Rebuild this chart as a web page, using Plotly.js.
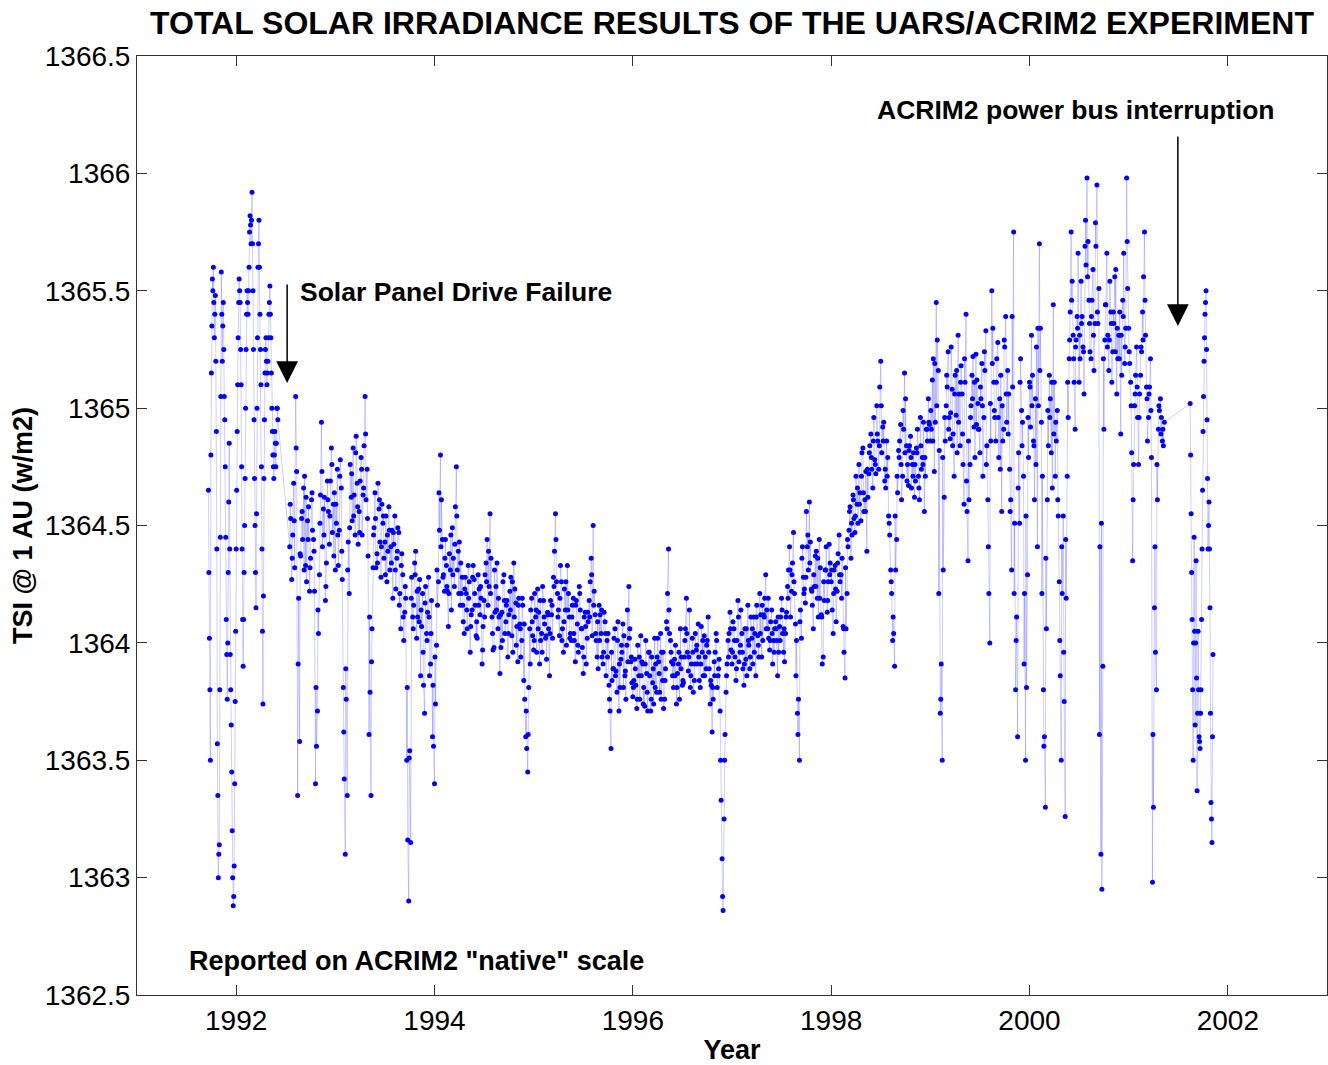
<!DOCTYPE html>
<html>
<head>
<meta charset="utf-8">
<script src="https://cdn.plot.ly/plotly-3.0.1.min.js"></script>
<style>html,body{margin:0;padding:0;background:#fff;}#chart{width:1328px;height:1065px;}</style>
</head>
<body>
<div id="chart"></div>
<script>
// ---- Data (year, TSI in W/m2) ----
var yearsA = [1991.72,1991.73,1991.74,1991.75,1991.76,1991.77,1991.78,1991.79,1991.80,1991.81,1991.82,1991.83,1991.84,1991.85,1991.86,1991.87,1991.88,1991.89,1991.90,1991.91,1991.92,1991.93,1991.94,1991.95,1991.96,1991.97,1991.98,1991.99,1992.00,1992.01,1992.02,1992.03,1992.04,1992.05,1992.06,1992.07,1992.08,1992.09,1992.10,1992.11,1992.12,1992.13,1992.14,1992.15,1992.16,1992.17,1992.18,1992.19,1992.20,1992.21,1992.22,1992.23,1992.24,1992.25,1992.26,1992.27,1992.28,1992.29,1992.30,1992.31,1992.32,1992.33,1992.34,1992.35,1992.36,1992.37,1992.38,1992.39,1992.40,1992.41,1992.42];
var tsiA = [1364.65,1364.02,1363.50,1365.15,1365.55,1365.60,1365.30,1365.48,1364.90,1363.57,1363.00,1363.14,1364.45,1365.58,1365.20,1365.45,1365.05,1364.75,1364.10,1363.76,1364.30,1364.85,1363.95,1363.65,1363.20,1362.88,1363.05,1363.75,1364.40,1364.90,1365.30,1365.55,1365.45,1365.10,1364.40,1363.90,1364.30,1364.70,1365.25,1365.50,1365.40,1365.60,1365.82,1365.70,1365.92,1365.50,1364.95,1364.50,1364.15,1365.00,1365.60,1365.80,1365.40,1365.10,1364.40,1363.74,1364.70,1365.15,1365.30,1365.10,1365.20,1365.40,1365.52,1365.30,1365.00,1364.80,1364.70,1364.90,1364.75,1365.00,1364.95];
var yearsA3 = [1991.725,1991.735,1991.745,1991.755,1991.765,1991.775,1991.785,1991.795,1991.805,1991.815,1991.825,1991.835,1991.845,1991.855,1991.865,1991.875,1991.885,1991.895,1991.905,1991.915,1991.925,1991.935,1991.945,1991.955,1991.965,1991.975,1991.985,1991.995,1992.005,1992.015,1992.025,1992.035,1992.045,1992.055,1992.065,1992.075,1992.085,1992.095,1992.105,1992.115,1992.125,1992.135,1992.145,1992.155,1992.165,1992.175,1992.185,1992.195,1992.205,1992.215,1992.225,1992.235,1992.245,1992.255,1992.265,1992.275,1992.285,1992.295,1992.305,1992.315,1992.325,1992.335,1992.345,1992.355,1992.365,1992.375,1992.385,1992.395,1992.405,1992.415];
var tsiA3 = [1364.30,1363.80,1364.80,1365.35,1365.50,1365.45,1365.40,1365.20,1364.40,1363.35,1363.10,1363.80,1365.05,1365.40,1365.35,1365.25,1364.95,1364.45,1363.95,1364.00,1364.60,1364.40,1363.80,1363.45,1363.00,1362.92,1363.40,1364.05,1364.65,1365.10,1365.45,1365.50,1365.25,1364.75,1364.10,1364.10,1364.50,1365.00,1365.40,1365.45,1365.50,1365.75,1365.78,1365.80,1365.70,1365.25,1364.70,1364.30,1364.55,1365.30,1365.70,1365.60,1365.25,1364.75,1364.05,1364.20,1364.95,1365.25,1365.20,1365.15,1365.30,1365.45,1365.40,1365.15,1364.90,1364.75,1364.80,1364.85,1364.85,1365.00];

var yearsB = [1992.54,1992.56,1992.58,1992.60,1992.62,1992.64,1992.66,1992.68,1992.70,1992.72,1992.74,1992.76,1992.78,1992.80,1992.82,1992.84,1992.86,1992.88,1992.90,1992.92,1992.94,1992.96,1992.98,1993.00,1993.02,1993.04,1993.06,1993.08,1993.10,1993.12,1993.14,1993.16,1993.18,1993.20,1993.22,1993.24,1993.26,1993.28,1993.30,1993.32,1993.34,1993.36,1993.38,1993.40,1993.42,1993.44,1993.46,1993.48,1993.50,1993.52,1993.54,1993.56,1993.58,1993.60,1993.62,1993.64,1993.66,1993.68,1993.70,1993.72,1993.74,1993.76,1993.78,1993.80,1993.82,1993.84,1993.86,1993.88,1993.90,1993.92,1993.94,1993.96,1993.98,1994.00,1994.02,1994.04,1994.06,1994.08,1994.10,1994.12,1994.14,1994.16,1994.18,1994.20,1994.22,1994.24,1994.26,1994.28,1994.30,1994.32,1994.34,1994.36,1994.38,1994.40,1994.42,1994.44,1994.46,1994.48,1994.50,1994.52,1994.54,1994.56,1994.58,1994.60,1994.62,1994.64,1994.66,1994.68,1994.70,1994.72,1994.74,1994.76,1994.78,1994.80,1994.82,1994.84,1994.86,1994.88,1994.90,1994.92,1994.94,1994.96,1994.98,1995.00,1995.02,1995.04,1995.06,1995.08,1995.10,1995.12,1995.14,1995.16,1995.18,1995.20,1995.22,1995.24,1995.26,1995.28,1995.30,1995.32,1995.34,1995.36,1995.38,1995.40,1995.42,1995.44,1995.46,1995.48,1995.50,1995.52,1995.54,1995.56,1995.58,1995.60,1995.62,1995.64,1995.66,1995.68,1995.70,1995.72,1995.74,1995.76,1995.78,1995.80,1995.82,1995.84,1995.86,1995.88,1995.90,1995.92,1995.94,1995.96,1995.98];
var tsiB = [1364.41,1364.27,1364.68,1365.05,1363.35,1363.58,1364.53,1364.66,1364.33,1364.52,1364.22,1364.61,1364.44,1363.40,1363.71,1364.29,1364.94,1364.57,1364.18,1364.69,1364.42,1364.83,1364.59,1364.31,1364.74,1364.48,1364.66,1363.81,1363.10,1363.35,1364.21,1364.62,1364.83,1364.46,1364.68,1364.56,1364.79,1364.63,1365.05,1364.74,1363.61,1363.35,1364.32,1364.64,1364.38,1364.57,1364.28,1364.51,1364.43,1364.26,1364.58,1364.41,1364.19,1364.54,1364.36,1364.47,1364.06,1364.29,1364.13,1363.50,1362.90,1363.15,1364.11,1364.34,1364.02,1364.23,1363.86,1364.21,1363.70,1364.04,1364.28,1363.91,1363.60,1363.40,1363.99,1364.26,1364.80,1364.44,1364.22,1364.33,1364.07,1364.31,1364.49,1364.24,1364.75,1364.39,1364.16,1364.28,1364.04,1364.21,1364.33,1363.96,1364.14,1364.27,1364.03,1364.29,1364.12,1363.91,1364.18,1364.34,1364.16,1364.55,1364.11,1363.98,1364.24,1364.06,1363.87,1364.13,1364.29,1364.09,1363.94,1364.22,1364.03,1364.34,1364.17,1363.92,1364.08,1364.01,1363.84,1363.60,1363.45,1364.06,1364.19,1363.97,1364.11,1364.23,1363.91,1364.04,1364.18,1364.02,1364.13,1363.86,1364.12,1364.28,1364.55,1364.21,1364.03,1364.26,1363.96,1364.14,1364.33,1364.11,1364.01,1364.19,1363.92,1364.08,1364.24,1364.06,1363.87,1364.13,1364.02,1364.18,1364.36,1364.50,1364.12,1363.94,1364.16,1364.04,1363.91,1364.09,1364.01,1363.82,1363.55,1363.89,1364.06,1363.79,1363.71,1363.93,1364.08,1363.86,1363.99,1364.24,1363.92];
var yearsB2 = [1992.55,1992.57,1992.59,1992.61,1992.63,1992.65,1992.67,1992.69,1992.71,1992.73,1992.75,1992.77,1992.79,1992.81,1992.83,1992.85,1992.87,1992.89,1992.91,1992.93,1992.95,1992.97,1992.99,1993.01,1993.03,1993.05,1993.07,1993.09,1993.11,1993.13,1993.15,1993.17,1993.19,1993.21,1993.23,1993.25,1993.27,1993.29,1993.31,1993.33,1993.35,1993.37,1993.39,1993.41,1993.43,1993.45,1993.47,1993.49,1993.51,1993.53,1993.55,1993.57,1993.59,1993.61,1993.63,1993.65,1993.67,1993.69,1993.71,1993.73,1993.75,1993.77,1993.79,1993.81,1993.83,1993.85,1993.87,1993.89,1993.91,1993.93,1993.95,1993.97,1993.99,1994.01,1994.03,1994.05,1994.07,1994.09,1994.11,1994.13,1994.15,1994.17,1994.19,1994.21,1994.23,1994.25,1994.27,1994.29,1994.31,1994.33,1994.35,1994.37,1994.39,1994.41,1994.43,1994.45,1994.47,1994.49,1994.51,1994.53,1994.55,1994.57,1994.59,1994.61,1994.63,1994.65,1994.67,1994.69,1994.71,1994.73,1994.75,1994.77,1994.79,1994.81,1994.83,1994.85,1994.87,1994.89,1994.91,1994.93,1994.95,1994.97,1994.99,1995.01,1995.03,1995.05,1995.07,1995.09,1995.11,1995.13,1995.15,1995.17,1995.19,1995.21,1995.23,1995.25,1995.27,1995.29,1995.31,1995.33,1995.35,1995.37,1995.39,1995.41,1995.43,1995.45,1995.47,1995.49,1995.51,1995.53,1995.55,1995.57,1995.59,1995.61,1995.63,1995.65,1995.67,1995.69,1995.71,1995.73,1995.75,1995.77,1995.79,1995.81,1995.83,1995.85,1995.87,1995.89,1995.91,1995.93,1995.95,1995.97,1995.99];
var tsiB2 = [1364.53,1364.46,1364.32,1364.73,1364.19,1364.37,1364.44,1364.71,1364.26,1364.58,1364.36,1364.48,1364.22,1363.56,1364.04,1364.63,1364.41,1364.62,1364.34,1364.56,1364.69,1364.47,1364.64,1364.51,1364.33,1364.78,1364.27,1363.42,1363.76,1364.43,1364.76,1364.52,1364.63,1364.88,1364.42,1364.69,1364.46,1364.84,1364.61,1364.37,1363.79,1364.06,1364.49,1364.32,1364.68,1364.43,1364.59,1364.36,1364.54,1364.39,1364.31,1364.48,1364.42,1364.23,1364.49,1364.21,1364.38,1364.01,1364.19,1363.16,1363.54,1364.28,1364.16,1364.39,1364.11,1364.27,1364.07,1363.82,1364.24,1364.13,1363.86,1364.18,1363.56,1363.74,1364.16,1364.48,1364.61,1364.29,1364.44,1364.22,1364.38,1364.14,1364.36,1364.58,1364.31,1364.43,1364.21,1364.09,1364.28,1364.06,1364.26,1364.12,1364.33,1364.16,1364.02,1364.23,1364.19,1364.07,1364.29,1364.44,1364.24,1364.36,1363.97,1364.13,1364.34,1364.11,1363.98,1364.26,1364.04,1364.18,1364.12,1364.28,1363.96,1364.23,1364.07,1364.19,1363.94,1364.16,1363.76,1363.55,1363.81,1364.14,1364.03,1364.21,1363.96,1364.13,1364.01,1364.24,1364.08,1363.93,1364.06,1364.18,1364.02,1364.39,1364.26,1364.14,1364.33,1364.06,1364.23,1363.99,1364.21,1364.04,1364.16,1364.01,1364.18,1363.96,1364.14,1363.98,1364.11,1363.91,1364.09,1364.26,1364.03,1364.22,1364.01,1363.89,1364.12,1363.94,1364.13,1363.86,1364.04,1363.71,1363.84,1364.02,1363.88,1364.09,1363.81,1363.96,1364.03,1363.76,1363.92,1364.06,1363.83];
var yearsB3 = [1992.545,1992.565,1992.585,1992.605,1992.625,1992.645,1992.665,1992.685,1992.705,1992.725,1992.745,1992.765,1992.785,1992.805,1992.825,1992.845,1992.865,1992.885,1992.905,1992.925,1992.945,1992.965,1992.985,1993.005,1993.025,1993.045,1993.065,1993.085,1993.105,1993.125,1993.145,1993.165,1993.185,1993.205,1993.225,1993.245,1993.265,1993.285,1993.305,1993.325,1993.345,1993.365,1993.385,1993.405,1993.425,1993.445,1993.465,1993.485,1993.505,1993.525,1993.545,1993.565,1993.585,1993.605,1993.625,1993.645,1993.665,1993.685,1993.705,1993.725,1993.745,1993.765,1993.785,1993.805,1993.825,1993.845,1993.865,1993.885,1993.905,1993.925,1993.945,1993.965,1993.985,1994.005,1994.025,1994.045,1994.065,1994.085,1994.105,1994.125,1994.145,1994.165,1994.185,1994.205,1994.225,1994.245,1994.265,1994.285,1994.305,1994.325,1994.345,1994.365,1994.385,1994.405,1994.425,1994.445,1994.465,1994.485,1994.505,1994.525,1994.545,1994.565,1994.585,1994.605,1994.625,1994.645,1994.665,1994.685,1994.705,1994.725,1994.745,1994.765,1994.785,1994.805,1994.825,1994.845,1994.865,1994.885,1994.905,1994.925,1994.945,1994.965,1994.985,1995.005,1995.025,1995.045,1995.065,1995.085,1995.105,1995.125,1995.145,1995.165,1995.185,1995.205,1995.225,1995.245,1995.265,1995.285,1995.305,1995.325,1995.345,1995.365,1995.385,1995.405,1995.425,1995.445,1995.465,1995.485,1995.505,1995.525,1995.545,1995.565,1995.585,1995.605,1995.625,1995.645,1995.665,1995.685,1995.705,1995.725,1995.745,1995.765,1995.785,1995.805,1995.825,1995.845,1995.865,1995.885,1995.905,1995.925,1995.945,1995.965,1995.985];
var tsiB3 = [1364.59,1364.36,1364.52,1364.83,1363.91,1364.38,1364.56,1364.31,1364.62,1364.44,1364.32,1364.64,1364.39,1363.81,1364.14,1364.51,1364.73,1364.46,1364.24,1364.61,1364.54,1364.76,1364.37,1364.59,1364.46,1364.71,1364.39,1363.62,1363.89,1364.31,1364.49,1364.72,1364.54,1364.81,1364.58,1364.47,1364.74,1364.66,1364.89,1364.53,1364.11,1363.92,1364.46,1364.53,1364.34,1364.61,1364.41,1364.54,1364.29,1364.46,1364.48,1364.34,1364.47,1364.31,1364.39,1364.16,1364.33,1364.11,1364.24,1363.81,1363.51,1364.19,1364.06,1364.29,1364.22,1364.09,1364.14,1363.96,1364.17,1364.01,1364.11,1364.04,1363.82,1363.94,1364.31,1364.64,1364.41,1364.28,1364.36,1364.24,1364.21,1364.46,1364.29,1364.42,1364.54,1364.21,1364.34,1364.16,1364.23,1364.14,1364.19,1364.07,1364.28,1364.21,1364.09,1364.16,1364.24,1363.97,1364.11,1364.26,1364.39,1364.21,1364.04,1364.31,1364.14,1364.19,1364.12,1364.01,1364.18,1364.16,1364.04,1364.14,1364.26,1364.11,1363.99,1364.16,1364.06,1364.19,1364.08,1363.71,1363.61,1363.91,1364.09,1364.01,1364.14,1364.06,1364.18,1363.96,1364.11,1364.03,1364.12,1364.04,1364.16,1364.24,1364.44,1364.11,1364.19,1364.01,1364.09,1364.26,1364.14,1364.02,1364.11,1364.04,1364.16,1363.99,1364.21,1364.06,1363.94,1364.07,1364.13,1364.11,1364.29,1364.16,1364.04,1364.09,1364.01,1364.14,1363.96,1364.04,1363.94,1363.76,1363.96,1363.89,1363.86,1364.01,1363.91,1363.99,1363.81,1363.88,1364.14,1364.02,1363.94];

var yearsC = [1996.00,1996.02,1996.04,1996.06,1996.08,1996.10,1996.12,1996.14,1996.16,1996.18,1996.20,1996.22,1996.24,1996.26,1996.28,1996.30,1996.32,1996.34,1996.36,1996.38,1996.40,1996.42,1996.44,1996.46,1996.48,1996.50,1996.52,1996.54,1996.56,1996.58,1996.60,1996.62,1996.64,1996.66,1996.68,1996.70,1996.72,1996.74,1996.76,1996.78,1996.80,1996.82,1996.84,1996.86,1996.88,1996.89,1996.90,1996.91,1996.92,1996.94,1996.96,1996.98,1997.00,1997.02,1997.04,1997.06,1997.08,1997.10,1997.12,1997.14,1997.16,1997.18,1997.20,1997.22,1997.24,1997.26,1997.28,1997.30,1997.32,1997.34,1997.36,1997.38,1997.40,1997.42,1997.44,1997.46,1997.48,1997.50,1997.52,1997.54,1997.56,1997.58,1997.60];
var tsiC = [1363.77,1363.93,1363.72,1363.86,1364.03,1363.91,1363.73,1363.87,1363.96,1363.71,1363.83,1364.02,1363.79,1363.92,1364.04,1363.84,1363.76,1364.09,1364.40,1364.01,1363.86,1363.93,1363.74,1363.91,1364.06,1363.82,1363.94,1364.19,1363.88,1363.81,1364.02,1363.84,1363.97,1364.08,1363.81,1363.96,1364.03,1363.89,1364.11,1363.74,1363.62,1363.92,1364.04,1363.86,1363.71,1363.33,1363.08,1362.86,1363.25,1363.79,1364.01,1364.13,1363.91,1364.06,1363.84,1364.18,1363.96,1364.04,1363.82,1363.93,1364.16,1363.89,1364.02,1364.11,1363.86,1364.03,1364.21,1363.94,1364.12,1364.29,1364.06,1363.97,1364.14,1364.01,1364.09,1363.86,1364.07,1364.19,1363.96,1364.04,1364.24,1364.41,1364.22];
var yearsC2 = [1996.01,1996.03,1996.05,1996.07,1996.09,1996.11,1996.13,1996.15,1996.17,1996.19,1996.21,1996.23,1996.25,1996.27,1996.29,1996.31,1996.33,1996.35,1996.37,1996.39,1996.41,1996.43,1996.45,1996.47,1996.49,1996.51,1996.53,1996.55,1996.57,1996.59,1996.61,1996.63,1996.65,1996.67,1996.69,1996.71,1996.73,1996.75,1996.77,1996.79,1996.81,1996.83,1996.85,1996.87,1996.93,1996.95,1996.97,1996.99,1997.01,1997.03,1997.05,1997.07,1997.09,1997.11,1997.13,1997.15,1997.17,1997.19,1997.21,1997.23,1997.25,1997.27,1997.29,1997.31,1997.33,1997.35,1997.37,1997.39,1997.41,1997.43,1997.45,1997.47,1997.49,1997.51,1997.53,1997.55,1997.57,1997.59];
var tsiC2 = [1363.84,1363.82,1363.99,1363.76,1363.92,1363.81,1364.01,1363.71,1363.86,1363.94,1363.74,1363.91,1364.02,1363.79,1363.96,1363.72,1363.89,1364.21,1364.04,1363.92,1363.81,1363.99,1363.87,1363.76,1363.94,1363.83,1364.06,1363.96,1364.14,1363.91,1363.79,1364.04,1363.91,1363.84,1364.07,1363.86,1363.94,1364.01,1363.89,1363.82,1363.76,1363.96,1363.81,1363.93,1363.61,1363.91,1364.04,1363.97,1364.09,1363.94,1364.01,1363.92,1364.14,1363.89,1364.06,1363.86,1363.99,1364.11,1363.91,1364.04,1364.16,1363.94,1364.12,1364.01,1364.19,1364.14,1364.02,1364.09,1363.91,1364.06,1364.01,1363.96,1364.11,1364.04,1363.92,1364.13,1364.31,1364.11];
var yearsC3 = [1996.005,1996.025,1996.045,1996.065,1996.085,1996.105,1996.125,1996.145,1996.165,1996.185,1996.205,1996.225,1996.245,1996.265,1996.285,1996.305,1996.325,1996.345,1996.365,1996.385,1996.405,1996.425,1996.445,1996.465,1996.485,1996.505,1996.525,1996.545,1996.565,1996.585,1996.605,1996.625,1996.645,1996.665,1996.685,1996.705,1996.725,1996.745,1996.765,1996.785,1996.805,1996.825,1996.845,1996.865,1996.885,1996.905,1996.925,1996.945,1996.965,1996.985,1997.005,1997.025,1997.045,1997.065,1997.085,1997.105,1997.125,1997.145,1997.165,1997.185,1997.205,1997.225,1997.245,1997.265,1997.285,1997.305,1997.325,1997.345,1997.365,1997.385,1997.405,1997.425,1997.445,1997.465,1997.485,1997.505,1997.525,1997.545,1997.565,1997.585];
var tsiC3 = [1363.81,1363.89,1363.76,1363.94,1363.86,1363.74,1363.91,1363.79,1363.96,1363.76,1363.89,1363.81,1363.94,1363.87,1363.76,1363.96,1363.84,1364.06,1364.14,1363.96,1363.91,1363.86,1363.81,1363.96,1363.89,1363.84,1364.01,1364.04,1363.94,1363.86,1363.96,1363.91,1363.99,1363.94,1363.91,1364.01,1363.86,1363.99,1363.96,1363.84,1363.81,1363.86,1364.01,1363.89,1363.50,1362.92,1363.50,1363.86,1363.94,1364.06,1363.96,1364.01,1363.89,1364.11,1363.99,1363.96,1363.91,1364.06,1364.01,1363.94,1364.06,1363.96,1364.11,1363.99,1364.04,1364.16,1364.11,1364.06,1364.19,1364.01,1364.04,1363.96,1364.06,1364.11,1364.01,1364.14,1364.06,1364.11,1364.19,1364.31];

var yearsD = [1997.62,1997.64,1997.66,1997.68,1997.70,1997.72,1997.74,1997.76,1997.78,1997.80,1997.82,1997.84,1997.86,1997.88,1997.90,1997.92,1997.94,1997.96,1997.98,1998.00,1998.02,1998.04,1998.06,1998.08,1998.10,1998.12,1998.14,1998.16,1998.18,1998.20,1998.22,1998.24,1998.26,1998.28,1998.30,1998.32,1998.34,1998.36,1998.38,1998.40,1998.42,1998.44,1998.46,1998.48,1998.50,1998.52,1998.54,1998.56,1998.58,1998.60,1998.62,1998.64,1998.66,1998.68,1998.70,1998.72,1998.74,1998.76,1998.78,1998.80,1998.82,1998.84,1998.86,1998.88,1998.90,1998.92,1998.94,1998.96,1998.98,1999.00];
var tsiD = [1364.47,1364.08,1363.70,1363.50,1364.02,1364.28,1364.17,1364.41,1364.60,1364.23,1364.06,1364.37,1364.19,1364.44,1364.12,1363.94,1364.31,1364.13,1364.42,1364.26,1364.04,1364.33,1364.22,1364.46,1364.29,1364.07,1363.85,1364.21,1364.48,1364.36,1364.63,1364.47,1364.59,1364.76,1364.52,1364.83,1364.61,1364.39,1364.72,1364.89,1364.66,1364.78,1365.01,1364.74,1365.20,1364.92,1364.69,1364.86,1364.54,1364.31,1364.01,1363.90,1364.44,1364.82,1364.93,1364.71,1365.15,1364.84,1364.67,1364.88,1364.76,1364.62,1364.83,1364.71,1364.96,1364.79,1364.56,1364.91,1365.04,1364.86];
var yearsD2 = [1997.61,1997.63,1997.65,1997.67,1997.69,1997.71,1997.73,1997.75,1997.77,1997.79,1997.81,1997.83,1997.85,1997.87,1997.89,1997.91,1997.93,1997.95,1997.97,1997.99,1998.01,1998.03,1998.05,1998.07,1998.09,1998.11,1998.13,1998.15,1998.17,1998.19,1998.21,1998.23,1998.25,1998.27,1998.29,1998.31,1998.33,1998.35,1998.37,1998.39,1998.41,1998.43,1998.45,1998.47,1998.49,1998.51,1998.53,1998.55,1998.57,1998.59,1998.61,1998.63,1998.65,1998.67,1998.69,1998.71,1998.73,1998.75,1998.77,1998.79,1998.81,1998.83,1998.85,1998.87,1998.89,1998.91,1998.93,1998.95,1998.97,1998.99];
var tsiD2 = [1364.34,1364.21,1364.01,1363.76,1364.14,1364.41,1364.23,1364.56,1364.31,1364.43,1364.16,1364.24,1364.39,1364.11,1364.32,1363.91,1364.18,1364.41,1364.26,1364.34,1364.14,1364.31,1364.09,1364.38,1364.26,1364.36,1363.96,1364.06,1364.41,1364.58,1364.46,1364.53,1364.71,1364.51,1364.64,1364.81,1364.56,1364.73,1364.62,1364.84,1364.74,1364.96,1364.72,1364.86,1365.09,1364.81,1364.94,1364.66,1364.79,1364.46,1364.21,1364.04,1364.31,1364.64,1364.86,1364.61,1364.91,1365.04,1364.76,1364.84,1364.66,1364.81,1364.69,1364.91,1364.61,1364.74,1364.94,1364.71,1364.86,1364.93];
var yearsD3 = [1997.605,1997.625,1997.645,1997.665,1997.685,1997.705,1997.725,1997.745,1997.765,1997.785,1997.805,1997.825,1997.845,1997.865,1997.885,1997.905,1997.925,1997.945,1997.965,1997.985,1998.005,1998.025,1998.045,1998.065,1998.085,1998.105,1998.125,1998.145,1998.165,1998.185,1998.205,1998.225,1998.245,1998.265,1998.285,1998.305,1998.325,1998.345,1998.365,1998.385,1998.405,1998.425,1998.445,1998.465,1998.485,1998.505,1998.525,1998.545,1998.565,1998.585,1998.605,1998.625,1998.645,1998.665,1998.685,1998.705,1998.725,1998.745,1998.765,1998.785,1998.805,1998.825,1998.845,1998.865,1998.885,1998.905,1998.925,1998.945,1998.965,1998.985];
var tsiD3 = [1364.29,1364.26,1363.86,1363.61,1364.09,1364.36,1364.21,1364.28,1364.46,1364.34,1364.22,1364.29,1364.24,1364.36,1364.19,1364.11,1364.26,1364.31,1364.18,1364.29,1364.31,1364.21,1364.23,1364.34,1364.29,1364.19,1364.06,1364.32,1364.44,1364.56,1364.51,1364.61,1364.54,1364.66,1364.59,1364.71,1364.64,1364.56,1364.74,1364.81,1364.79,1364.86,1364.76,1364.89,1364.84,1365.01,1364.86,1364.74,1364.71,1364.51,1364.26,1364.11,1364.54,1364.71,1364.79,1364.76,1364.99,1364.81,1364.69,1364.82,1364.79,1364.71,1364.76,1364.81,1364.66,1364.84,1364.76,1364.79,1364.91,1364.94];

var yearsE = [1999.02,1999.04,1999.06,1999.08,1999.10,1999.12,1999.14,1999.16,1999.18,1999.20,1999.22,1999.24,1999.26,1999.28,1999.30,1999.32,1999.34,1999.36,1999.38,1999.40,1999.42,1999.44,1999.46,1999.48,1999.50,1999.52,1999.54,1999.56,1999.58,1999.60,1999.62,1999.64,1999.66,1999.68,1999.70,1999.72,1999.74,1999.76,1999.78,1999.80,1999.82,1999.84,1999.86,1999.88,1999.90,1999.92,1999.94,1999.96,1999.98,2000.00];
var tsiE = [1365.12,1364.73,1365.45,1365.16,1363.70,1363.50,1364.62,1365.01,1365.24,1364.87,1365.08,1364.71,1364.97,1365.31,1364.84,1365.06,1364.59,1365.40,1364.35,1364.76,1365.14,1364.92,1365.23,1365.02,1364.81,1365.19,1364.96,1365.33,1364.61,1364.00,1365.50,1365.11,1364.86,1365.28,1365.04,1364.56,1364.91,1365.39,1365.16,1364.74,1364.31,1365.75,1363.80,1363.60,1364.51,1364.99,1364.71,1363.50,1364.29,1365.11];
var yearsE2 = [1999.01,1999.03,1999.05,1999.07,1999.09,1999.11,1999.13,1999.15,1999.17,1999.19,1999.21,1999.23,1999.25,1999.27,1999.29,1999.31,1999.33,1999.35,1999.37,1999.39,1999.41,1999.43,1999.45,1999.47,1999.49,1999.51,1999.53,1999.55,1999.57,1999.59,1999.61,1999.63,1999.65,1999.67,1999.69,1999.71,1999.73,1999.75,1999.77,1999.79,1999.81,1999.83,1999.85,1999.87,1999.89,1999.91,1999.93,1999.95,1999.97,1999.99];
var tsiE2 = [1364.91,1365.21,1364.94,1365.29,1364.82,1363.91,1364.31,1364.86,1365.09,1364.96,1365.26,1364.89,1365.14,1364.81,1365.06,1365.18,1364.76,1365.11,1364.56,1364.61,1365.01,1365.22,1364.79,1365.12,1364.91,1365.04,1364.71,1365.16,1364.84,1364.21,1364.86,1365.34,1364.96,1365.21,1364.79,1365.14,1364.86,1365.26,1364.94,1365.06,1364.61,1365.09,1364.51,1364.11,1364.81,1365.21,1364.94,1364.21,1363.81,1364.79];
var yearsE3 = [1999.005,1999.025,1999.045,1999.065,1999.085,1999.105,1999.125,1999.145,1999.165,1999.185,1999.205,1999.225,1999.245,1999.265,1999.285,1999.305,1999.325,1999.345,1999.365,1999.385,1999.405,1999.425,1999.445,1999.465,1999.485,1999.505,1999.525,1999.545,1999.565,1999.585,1999.605,1999.625,1999.645,1999.665,1999.685,1999.705,1999.725,1999.745,1999.765,1999.785,1999.805,1999.825,1999.845,1999.865,1999.885,1999.905,1999.925,1999.945,1999.965,1999.985];
var tsiE3 = [1364.99,1364.86,1365.19,1365.01,1364.21,1363.76,1364.79,1364.96,1365.14,1364.91,1364.98,1364.84,1365.06,1365.16,1364.94,1365.11,1364.89,1365.21,1364.69,1364.86,1364.96,1365.04,1365.11,1364.93,1364.91,1365.09,1365.01,1365.24,1364.76,1364.41,1365.02,1365.19,1364.99,1365.11,1364.96,1364.74,1365.01,1365.29,1365.06,1364.89,1364.56,1365.39,1364.21,1364.01,1364.66,1365.11,1364.84,1363.91,1364.54,1364.96];

var yearsF = [2000.02,2000.04,2000.06,2000.08,2000.10,2000.12,2000.14,2000.16,2000.18,2000.20,2000.22,2000.24,2000.26,2000.28,2000.30,2000.32,2000.34,2000.36,2000.38,2000.40,2000.42,2000.44,2000.46,2000.48,2000.50,2000.52,2000.54,2000.56,2000.58,2000.60,2000.62,2000.64,2000.66,2000.68,2000.70,2000.72,2000.73,2000.74,2000.76,2000.78,2000.80,2000.82,2000.84,2000.86,2000.88,2000.90,2000.92,2000.94,2000.96,2000.98,2001.00,2001.02,2001.04,2001.06,2001.08,2001.10,2001.12,2001.14,2001.16,2001.18,2001.20,2001.22,2001.24,2001.25,2001.26,2001.28,2001.30,2001.32,2001.34,2001.36];
var tsiF = [1365.31,1364.86,1365.04,1364.41,1365.70,1364.94,1363.80,1363.30,1364.61,1365.14,1364.81,1365.44,1364.71,1364.99,1364.26,1363.50,1364.54,1363.26,1364.71,1365.21,1365.75,1365.31,1364.91,1365.39,1365.11,1365.54,1365.26,1365.69,1365.98,1365.46,1365.21,1365.59,1365.36,1365.95,1365.51,1363.10,1362.95,1363.90,1365.29,1365.66,1365.16,1365.41,1365.24,1365.56,1365.06,1365.31,1364.89,1365.46,1365.19,1365.98,1365.34,1365.11,1364.35,1365.01,1365.26,1364.76,1365.14,1365.41,1365.75,1365.09,1364.96,1365.21,1362.98,1363.30,1364.15,1363.80,1364.91,1365.04,1364.86,1364.94];
var yearsF2 = [2000.01,2000.03,2000.05,2000.07,2000.09,2000.11,2000.13,2000.15,2000.17,2000.19,2000.21,2000.23,2000.25,2000.27,2000.29,2000.31,2000.33,2000.35,2000.37,2000.39,2000.41,2000.43,2000.45,2000.47,2000.49,2000.51,2000.53,2000.55,2000.57,2000.59,2000.61,2000.63,2000.65,2000.67,2000.69,2000.71,2000.75,2000.77,2000.79,2000.81,2000.83,2000.85,2000.87,2000.89,2000.91,2000.93,2000.95,2000.97,2000.99,2001.01,2001.03,2001.05,2001.07,2001.09,2001.11,2001.13,2001.15,2001.17,2001.19,2001.21,2001.23,2001.27,2001.29,2001.31,2001.33,2001.35];
var tsiF2 = [1364.92,1365.14,1364.61,1365.26,1365.01,1365.34,1364.71,1363.60,1364.06,1364.84,1365.04,1364.66,1365.11,1364.86,1364.54,1363.86,1364.21,1363.75,1364.19,1364.96,1365.41,1365.54,1365.11,1365.29,1365.66,1365.21,1365.39,1365.06,1365.61,1365.71,1365.24,1365.46,1365.16,1365.69,1365.36,1364.41,1364.91,1365.44,1365.31,1365.54,1365.11,1365.36,1365.59,1365.21,1365.41,1365.14,1365.66,1365.34,1365.51,1365.19,1364.81,1364.76,1365.14,1364.96,1365.06,1365.24,1365.56,1365.31,1364.86,1365.09,1364.79,1363.96,1364.61,1364.99,1364.96,1364.84];
var yearsF3 = [2000.005,2000.025,2000.045,2000.065,2000.085,2000.105,2000.125,2000.145,2000.165,2000.185,2000.205,2000.225,2000.245,2000.265,2000.285,2000.305,2000.325,2000.345,2000.365,2000.385,2000.405,2000.425,2000.445,2000.465,2000.485,2000.505,2000.525,2000.545,2000.565,2000.585,2000.605,2000.625,2000.645,2000.665,2000.685,2000.705,2000.725,2000.745,2000.765,2000.785,2000.805,2000.825,2000.845,2000.865,2000.885,2000.905,2000.925,2000.945,2000.965,2000.985,2001.005,2001.025,2001.045,2001.065,2001.085,2001.105,2001.125,2001.145,2001.165,2001.185,2001.205,2001.225,2001.245,2001.265,2001.285,2001.305,2001.325,2001.345];
var tsiF3 = [1365.09,1365.01,1364.84,1364.76,1365.34,1365.16,1364.21,1363.56,1364.36,1364.99,1364.96,1365.11,1364.89,1364.94,1364.61,1364.01,1364.41,1363.96,1364.44,1365.11,1365.29,1365.46,1365.21,1365.26,1365.34,1365.31,1365.36,1365.24,1365.80,1365.56,1365.36,1365.39,1365.31,1365.79,1365.41,1363.61,1364.51,1365.21,1365.44,1365.26,1365.29,1365.36,1365.41,1365.24,1365.34,1365.21,1365.31,1365.39,1365.26,1365.71,1365.24,1365.01,1364.61,1365.06,1365.09,1364.96,1365.26,1365.29,1365.46,1365.04,1365.06,1364.99,1363.61,1364.41,1364.76,1365.01,1364.89,1364.91];

var yearsG = [2001.62,2001.63,2001.64,2001.65,2001.66,2001.67,2001.68,2001.69,2001.70,2001.71,2001.72,2001.73,2001.74,2001.75,2001.76,2001.77,2001.78,2001.79,2001.80,2001.81,2001.82,2001.83,2001.84,2001.85];
var tsiG = [1365.02,1364.55,1364.10,1363.50,1364.45,1363.65,1364.35,1363.37,1364.05,1363.60,1363.55,1363.80,1364.40,1364.90,1365.20,1365.40,1365.50,1364.95,1364.40,1364.60,1364.15,1363.32,1363.15,1363.95];
var yearsG3 = [2001.625,2001.635,2001.645,2001.655,2001.665,2001.675,2001.685,2001.695,2001.705,2001.715,2001.725,2001.735,2001.745,2001.755,2001.765,2001.775,2001.785,2001.795,2001.805,2001.815,2001.825,2001.835,2001.845];
var tsiG3 = [1364.80,1364.30,1363.80,1364.00,1364.05,1364.00,1363.85,1363.70,1363.80,1363.58,1363.70,1364.10,1364.65,1365.05,1365.30,1365.45,1365.25,1364.70,1364.50,1364.40,1363.70,1363.25,1363.60];

var xTickVals = [1992, 1994, 1996, 1998, 2000, 2002];
var xTickText = ["1992", "1994", "1996", "1998", "2000", "2002"];
var yTickVals = [1362.5, 1363, 1363.5, 1364, 1364.5, 1365, 1365.5, 1366, 1366.5];
var yTickText = ["1362.5", "1363", "1363.5", "1364", "1364.5", "1365", "1365.5", "1366", "1366.5"];

var chartTitle = "TOTAL SOLAR IRRADIANCE RESULTS OF THE UARS/ACRIM2 EXPERIMENT";
var xTitle = "Year";
var yTitle = "TSI @ 1 AU (w/m2)";
var noteSolar = "Solar Panel Drive Failure";
var noteBus = "ACRIM2 power bus interruption";
var noteScale = "Reported on ACRIM2 \"native\" scale";

// ---- Build one time-ordered series ----
var allYears = [].concat(yearsA, yearsA3, yearsB, yearsB2, yearsB3, yearsC, yearsC2, yearsC3, yearsD, yearsD2, yearsD3, yearsE, yearsE2, yearsE3, yearsF, yearsF2, yearsF3, yearsG, yearsG3);
var allTsi = [].concat(tsiA, tsiA3, tsiB, tsiB2, tsiB3, tsiC, tsiC2, tsiC3, tsiD, tsiD2, tsiD3, tsiE, tsiE2, tsiE3, tsiF, tsiF2, tsiF3, tsiG, tsiG3);
var order = allYears.map(function (v, i) { return i; }).sort(function (a, b) { return allYears[a] - allYears[b]; });
var years = order.map(function (i) { return allYears[i]; });
var tsi = order.map(function (i) { return allTsi[i]; });

var FONT = "Liberation Sans, Arial, Helvetica, sans-serif";

var trace = {
  x: years, y: tsi,
  type: "scatter", mode: "lines+markers",
  line: {color: "rgba(60,60,255,0.25)", width: 1},
  marker: {color: "#0000ff", size: 5},
  hoverinfo: "x+y"
};

var axisCommon = {
  showline: true, linecolor: "#333", linewidth: 1, mirror: "ticks",
  ticks: "inside", ticklen: 10, tickwidth: 1, tickcolor: "#333",
  showgrid: false, zeroline: false,
  tickfont: {family: FONT, size: 28, color: "#000"}
};

var layout = {
  width: 1328, height: 1065,
  margin: {l: 137, r: 1, t: 56, b: 70},
  paper_bgcolor: "#fff", plot_bgcolor: "#fff",
  showlegend: false,
  font: {family: FONT, color: "#000"},
  title: {
    text: "<b>" + chartTitle + "</b>",
    font: {family: FONT, size: 32, color: "#000"},
    xref: "paper", x: 0.5, xanchor: "center",
    yref: "container", y: 0.979, yanchor: "middle"
  },
  xaxis: Object.assign({}, axisCommon, {
    range: [1991, 2003], tickvals: xTickVals, ticktext: xTickText,
    title: {text: "<b>" + xTitle + "</b>", font: {family: FONT, size: 27, color: "#000"}, standoff: 6}
  }),
  yaxis: Object.assign({}, axisCommon, {
    range: [1362.5, 1366.5], tickvals: yTickVals, ticktext: yTickText,
    title: {text: "<b>" + yTitle + "</b>", font: {family: FONT, size: 27, color: "#000"}, standoff: 4}
  }),
  annotations: [
    {xref: "x", yref: "y", x: 1992.625, y: 1365.495, xanchor: "left", yanchor: "middle",
     text: "<b>" + noteSolar + "</b>", showarrow: false, font: {family: FONT, size: 26.5, color: "#000"}},
    {xref: "x", yref: "y", x: 1992.514, y: 1365.107, text: "", showarrow: true,
     ax: 0, ay: -100, arrowhead: 2, arrowsize: 2.9, arrowwidth: 1.5, arrowcolor: "#000"},
    {xref: "x", yref: "y", x: 1998.442, y: 1366.27, xanchor: "left", yanchor: "middle",
     text: "<b>" + noteBus + "</b>", showarrow: false, font: {family: FONT, size: 26.5, color: "#000"}},
    {xref: "x", yref: "y", x: 2001.496, y: 1365.35, text: "", showarrow: true,
     ax: 0, ay: -191, arrowhead: 2, arrowsize: 2.9, arrowwidth: 1.5, arrowcolor: "#000"},
    {xref: "x", yref: "y", x: 1991.506, y: 1362.646, xanchor: "left", yanchor: "middle",
     text: "<b>" + noteScale + "</b>", showarrow: false, font: {family: FONT, size: 27, color: "#000"}}
  ]
};

Plotly.newPlot("chart", [trace], layout, {displayModeBar: false, staticPlot: true});
</script>
</body>
</html>
